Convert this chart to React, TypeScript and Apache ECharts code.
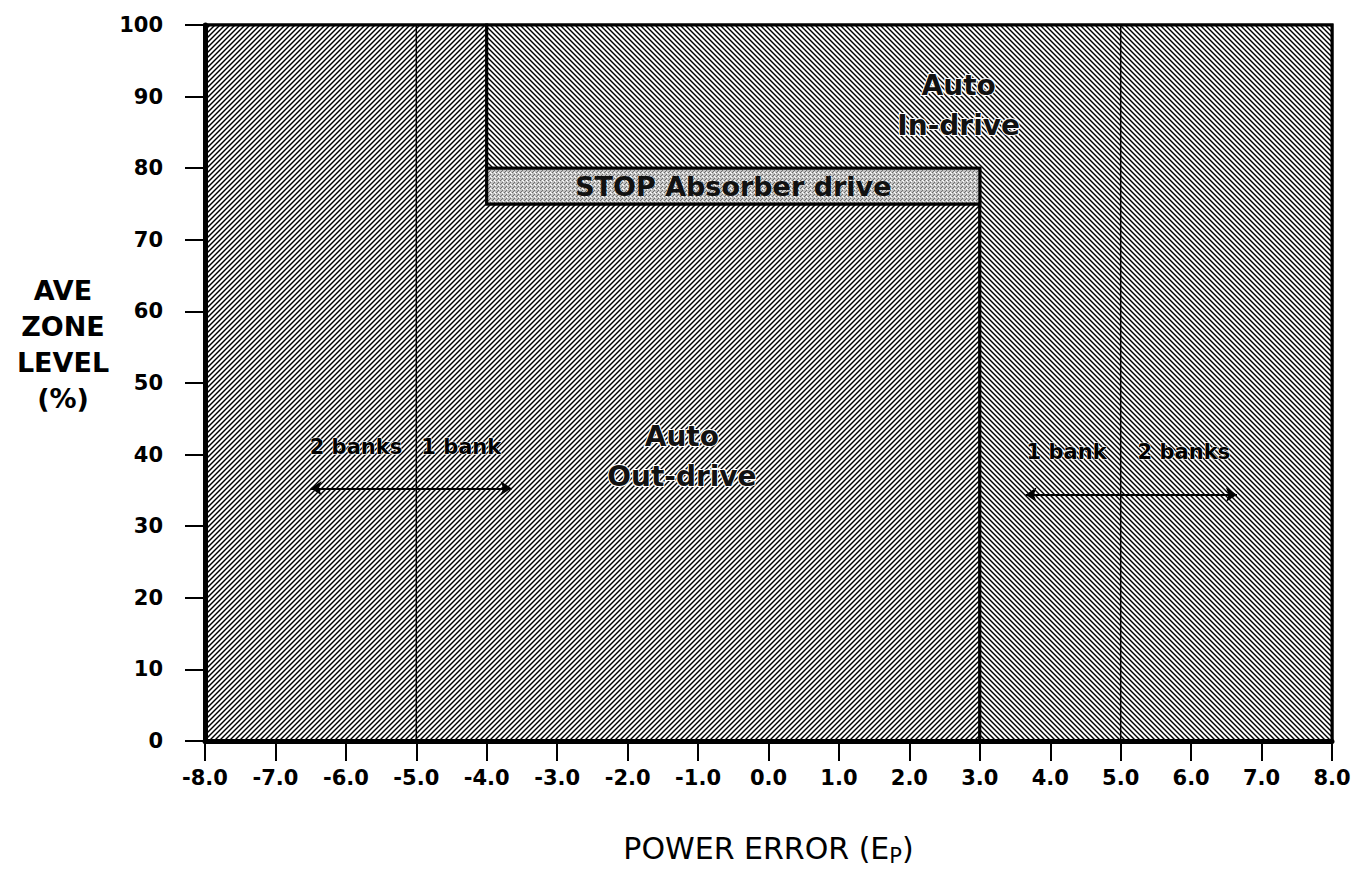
import React, { useEffect, useRef } from "react";
import * as echarts from "echarts";

// ---- data ----
const X_MIN = -8;
const X_MAX = 8;
const X_STEP = 1;
const Y_MIN = 0;
const Y_MAX = 100;
const Y_STEP = 10;

// zone outlines in (power error, zone level) units
const OUT_DRIVE: number[][] = [[-8, 0], [3, 0], [3, 75], [-4, 75], [-4, 100], [-8, 100]];
const IN_DRIVE: number[][] = [[-4, 100], [-4, 80], [3, 80], [3, 0], [8, 0], [8, 100]];
const STOP_BAND: number[][] = [[-4, 75], [3, 75], [3, 80], [-4, 80]];

const BANK_LINES: number[] = [-5, 5];
const ARROWS: number[][][] = [
  [[-6.5, 35.3], [-3.65, 35.3]],
  [[3.65, 34.4], [6.65, 34.4]],
];

const ZONE_TEXTS: string[] = ["Auto\nOut-drive", "Auto\nIn-drive", "STOP Absorber drive"];
const ZONE_TEXT_AT: number[][] = [[-1.23, 39.8], [2.7, 88.8], [-0.5, 77.5]];

const BANK_TEXTS: string[] = ["2 banks", "1 bank", "1 bank", "2 banks"];
const BANK_TEXT_AT: number[][] = [[-5.2, 41], [-4.93, 41], [4.8, 40.4], [5.24, 40.4]];
const BANK_TEXT_SIDE: string[] = ["right", "left", "right", "left"];

const FONT = "'DejaVu Sans', Verdana, sans-serif";

function makeHatch(forward: boolean): string {
  const s = 5;
  const c = document.createElement("canvas");
  c.width = s;
  c.height = s;
  const g = c.getContext("2d")!;
  g.fillStyle = "#ffffff";
  g.fillRect(0, 0, s, s);
  g.strokeStyle = "#000000";
  g.lineWidth = 1.4;
  for (const k of [-1, 0, 1]) {
    g.beginPath();
    if (forward) {
      g.moveTo(k * s - 1, s + 1);
      g.lineTo(k * s + s + 1, -1);
    } else {
      g.moveTo(k * s - 1, -1);
      g.lineTo(k * s + s + 1, s + 1);
    }
    g.stroke();
  }
  return c.toDataURL();
}

function makeStipple(): string {
  const s = 4;
  const c = document.createElement("canvas");
  c.width = s;
  c.height = s;
  const g = c.getContext("2d")!;
  g.fillStyle = "#c2c2c2";
  g.fillRect(0, 0, s, s);
  g.fillStyle = "#6e6e6e";
  g.fillRect(0, 0, 1, 1);
  g.fillRect(2, 2, 1, 1);
  g.fillRect(1, 3, 1, 1);
  g.fillStyle = "#ffffff";
  g.fillRect(3, 1, 1, 1);
  g.fillRect(2, 0, 1, 1);
  return c.toDataURL();
}

export default function App() {
  const ref = useRef<HTMLDivElement>(null);

  useEffect(() => {
    if (!ref.current) return;
    const chart = echarts.init(ref.current, undefined, { renderer: "svg" });

    const hatchFwd = { image: makeHatch(true), repeat: "repeat", imageWidth: 5, imageHeight: 5 };
    const hatchBack = { image: makeHatch(false), repeat: "repeat", imageWidth: 5, imageHeight: 5 };
    const stipple = { image: makeStipple(), repeat: "repeat", imageWidth: 4, imageHeight: 4 };

    const polySeries = (name: string, pts: number[][], fill: any, z: number) => ({
      name,
      type: "custom",
      z,
      silent: true,
      data: [[pts[0][0], pts[0][1]]],
      renderItem: (_p: any, api: any) => ({
        type: "polygon",
        shape: { points: pts.map((p) => api.coord(p)) },
        style: { fill, stroke: "#000", lineWidth: 3, lineJoin: "miter" },
      }),
    });

    const option: any = {
      animation: false,
      backgroundColor: "#fff",
      grid: {
        left: 205,
        right: 30,
        top: 25,
        bottom: 139,
        containLabel: false,
        outerBoundsMode: "none",
        show: true,
        borderColor: "#000",
        borderWidth: 3,
        backgroundColor: "#fff",
      },
      xAxis: {
        type: "value",
        min: X_MIN,
        max: X_MAX,
        interval: X_STEP,
        z: 10,
        name: "POWER ERROR (E{sub|P})",
        nameLocation: "middle",
        nameGap: 90,
        nameTextStyle: {
          fontFamily: FONT,
          fontSize: 30,
          color: "#000",
          rich: {
            sub: { fontFamily: FONT, fontSize: 21, color: "#000", padding: [14, 0, 0, 0] },
          },
        },
        axisLine: { show: true, onZero: false, lineStyle: { color: "#000", width: 5 } },
        axisTick: { show: true, length: 20, lineStyle: { color: "#000", width: 2 } },
        axisLabel: {
          margin: 26,
          fontFamily: FONT,
          fontWeight: "bold",
          fontSize: 21,
          color: "#000",
          formatter: (v: number) => v.toFixed(1),
        },
        splitLine: { show: false },
      },
      yAxis: {
        type: "value",
        min: Y_MIN,
        max: Y_MAX,
        interval: Y_STEP,
        z: 10,
        axisLine: { show: true, onZero: false, lineStyle: { color: "#000", width: 5 } },
        axisTick: { show: true, length: 20, lineStyle: { color: "#000", width: 2 } },
        axisLabel: {
          margin: 42,
          fontFamily: FONT,
          fontWeight: "bold",
          fontSize: 21,
          color: "#000",
        },
        splitLine: { show: false },
      },
      graphic: [
        {
          type: "text",
          x: 63,
          y: 344,
          z: 20,
          style: {
            text: "AVE\nZONE\nLEVEL\n(%)",
            font: `bold 27px ${FONT}`,
            fill: "#000",
            align: "center",
            verticalAlign: "middle",
            lineHeight: 36,
          },
        },
      ],
      series: [
        polySeries("Auto Out-drive", OUT_DRIVE, hatchFwd, 2),
        polySeries("Auto In-drive", IN_DRIVE, hatchBack, 2),
        polySeries("STOP Absorber drive", STOP_BAND, stipple, 3),
        ...BANK_LINES.map((x) => ({
          type: "line",
          z: 4,
          silent: true,
          showSymbol: false,
          symbol: "none",
          lineStyle: { color: "#000", width: 1.5 },
          data: [[x, Y_MIN], [x, Y_MAX]],
        })),
        {
          type: "lines",
          coordinateSystem: "cartesian2d",
          z: 5,
          silent: true,
          symbol: ["arrow", "arrow"],
          symbolSize: 11,
          lineStyle: { color: "#000", width: 2, opacity: 1 },
          data: ARROWS.map((a) => ({ coords: a })),
        },
        {
          type: "custom",
          z: 6,
          silent: true,
          data: ZONE_TEXT_AT,
          renderItem: (p: any, api: any) => {
            const pt = api.coord([api.value(0), api.value(1)]);
            const isStop = p.dataIndex === 2;
            return {
              type: "text",
              x: pt[0],
              y: pt[1],
              style: {
                text: ZONE_TEXTS[p.dataIndex],
                font: isStop ? `bold 27px ${FONT}` : `bold 28px ${FONT}`,
                fill: "#111",
                stroke: isStop ? undefined : "#ffffff",
                lineWidth: isStop ? 0 : 2,
                align: "center",
                verticalAlign: "middle",
                lineHeight: 40,
              },
            };
          },
        },
        {
          type: "custom",
          z: 6,
          silent: true,
          data: BANK_TEXT_AT,
          renderItem: (p: any, api: any) => {
            const pt = api.coord([api.value(0), api.value(1)]);
            return {
              type: "text",
              x: pt[0],
              y: pt[1],
              style: {
                text: BANK_TEXTS[p.dataIndex],
                font: `bold 21px ${FONT}`,
                fill: "#000",
                stroke: "#ffffff",
                lineWidth: 1,
                align: BANK_TEXT_SIDE[p.dataIndex],
                verticalAlign: "middle",
              },
            };
          },
        },
      ],
    };

    chart.setOption(option);
    return () => chart.dispose();
  }, []);

  return (
    <div
      ref={ref}
      style={{ position: "fixed", left: 0, top: 0, width: 1362, height: 880, background: "#fff" }}
    />
  );
}
